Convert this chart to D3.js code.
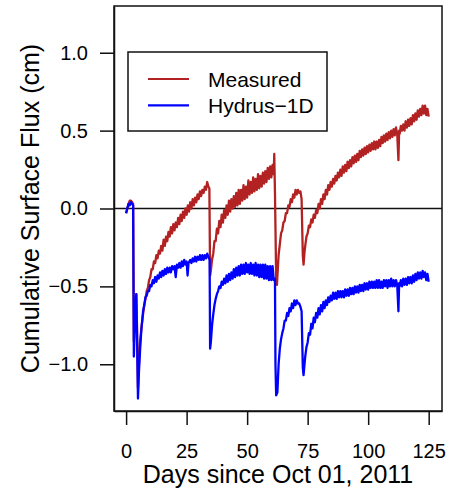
<!DOCTYPE html>
<html>
<head>
<meta charset="utf-8">
<script src="https://cdn.jsdelivr.net/npm/d3@7"></script>
<style>
  body { margin: 0; background: #fff; }
  text { font-family: "Liberation Sans", Arial, Helvetica, sans-serif; fill: #000; }
</style>
</head>
<body>
<svg id="chart" width="451" height="492"></svg>
<script>
// [day, cumulative flux (cm)]; noisy stretches alternate between
// the upper and lower edge of the trace
var measured = [
  [0,-0.03],[0.5,0.00],[1,0.03],[1.5,0.05],[2,0.05],[2.5,0.04],[2.9,0.03],[3.2,-0.85],[3.5,-0.75],[3.9,-0.60],
  [4.2,-0.55],[4.5,-0.75],[4.9,-1.15],[5.3,-1.00],[5.8,-0.85],[6.3,-0.77],[7,-0.68],[7.5,-0.62],[8,-0.58],[8.5,-0.53],
  [9,-0.51],[9.5,-0.46],[10,-0.44],[10.5,-0.39],[11,-0.39],[11.5,-0.34],[12,-0.35],[12.5,-0.30],[13,-0.32],[13.5,-0.27],
  [14,-0.29],[14.5,-0.24],[15,-0.27],[15.5,-0.20],[16,-0.24],[16.5,-0.18],[17,-0.21],[17.5,-0.15],[18,-0.18],[18.5,-0.12],
  [19,-0.16],[19.5,-0.10],[20,-0.14],[20.5,-0.09],[21,-0.12],[21.5,-0.06],[22,-0.10],[22.5,-0.04],[23,-0.08],[23.5,-0.02],
  [24,-0.06],[24.5,0.00],[25,-0.04],[25.5,0.02],[26,-0.02],[26.5,0.04],[27,0.00],[27.5,0.06],[28,0.02],[28.5,0.07],
  [29,0.04],[29.5,0.09],[30,0.06],[30.5,0.11],[31,0.08],[31.5,0.12],[32,0.10],[32.5,0.14],[33,0.12],[33.5,0.17],
  [34,0.14],[34.4,0.13],[34.7,-0.43],[35,-0.40],[35.5,-0.33],[36,-0.29],[36.5,-0.21],[37,-0.21],[37.5,-0.13],[38,-0.16],
  [38.5,-0.08],[39,-0.12],[39.5,-0.04],[40,-0.09],[40.5,-0.01],[41,-0.06],[41.5,0.02],[42,-0.04],[42.5,0.05],[43,-0.02],
  [43.5,0.06],[44,0.00],[44.5,0.08],[45,0.01],[45.5,0.10],[46,0.02],[46.5,0.12],[47,0.03],[47.5,0.12],[48,0.05],
  [48.5,0.15],[49,0.06],[49.5,0.14],[50,0.07],[50.5,0.18],[51,0.09],[51.5,0.17],[52,0.10],[52.5,0.20],[53,0.11],
  [53.5,0.19],[54,0.12],[54.5,0.22],[55,0.13],[55.5,0.21],[56,0.14],[56.5,0.23],[57,0.16],[57.5,0.24],[58,0.17],
  [58.5,0.26],[59,0.19],[59.5,0.27],[60,0.20],[60.5,0.28],[61,0.22],[61.2,0.35],[61.5,0.10],[62,-0.45],[62.3,-0.49],
  [62.7,-0.38],[63,-0.30],[63.5,-0.23],[64,-0.16],[64.5,-0.14],[65,-0.09],[65.5,-0.08],[66,-0.03],[66.5,-0.03],[67,0.02],
  [67.5,0.01],[68,0.06],[68.5,0.04],[69,0.09],[69.5,0.07],[70,0.12],[70.5,0.09],[71,0.12],[71.5,0.10],[72,0.11],
  [72.5,0.06],[73,-0.30],[73.3,-0.36],[73.7,-0.28],[74,-0.24],[74.5,-0.18],[75,-0.16],[75.5,-0.11],[76,-0.12],[76.5,-0.07],
  [77,-0.09],[77.5,-0.04],[78,-0.06],[78.5,-0.01],[79,-0.03],[79.5,0.03],[80,0.00],[80.5,0.06],[81,0.03],[81.5,0.09],
  [82,0.06],[82.5,0.12],[83,0.09],[83.5,0.15],[84,0.12],[84.5,0.17],[85,0.14],[85.5,0.19],[86,0.16],[86.5,0.21],
  [87,0.18],[87.5,0.23],[88,0.20],[88.5,0.25],[89,0.21],[89.5,0.27],[90,0.23],[90.5,0.28],[91,0.24],[91.5,0.30],
  [92,0.26],[92.5,0.31],[93,0.27],[93.5,0.33],[94,0.29],[94.5,0.34],[95,0.30],[95.5,0.35],[96,0.31],[96.5,0.37],
  [97,0.33],[97.5,0.38],[98,0.34],[98.5,0.39],[99,0.35],[99.5,0.40],[100,0.36],[100.5,0.41],[101,0.37],[101.5,0.42],
  [102,0.38],[102.5,0.43],[103,0.38],[103.5,0.43],[104,0.39],[104.5,0.44],[105,0.40],[105.5,0.46],[106,0.42],[106.5,0.47],
  [107,0.43],[107.5,0.48],[108,0.44],[108.5,0.49],[109,0.45],[109.5,0.50],[110,0.46],[110.5,0.51],[111,0.47],[111.5,0.52],
  [112,0.48],[112.5,0.31],[112.8,0.50],[113,0.48],[113.5,0.53],[114,0.50],[114.5,0.54],[115,0.50],[115.5,0.56],[116,0.52],
  [116.5,0.57],[117,0.53],[117.5,0.58],[118,0.54],[118.5,0.60],[119,0.56],[119.5,0.61],[120,0.57],[120.5,0.63],[121,0.59],
  [121.5,0.64],[122,0.60],[122.5,0.66],[123,0.61],[123.5,0.66],[124,0.60],[124.5,0.64],[125,0.59]
];

var hydrus = [
  [0,-0.03],[0.5,0.00],[1,0.03],[1.5,0.02],[2,0.04],[2.5,0.03],[2.9,0.02],[3.2,-0.95],[3.5,-0.80],[3.9,-0.62],
  [4.2,-0.55],[4.5,-0.80],[4.9,-1.22],[5.3,-1.05],[5.8,-0.90],[6.3,-0.78],[7,-0.66],[7.5,-0.62],[8,-0.57],[8.5,-0.56],
  [9,-0.53],[9.5,-0.53],[10,-0.49],[10.5,-0.50],[11,-0.46],[11.5,-0.48],[12,-0.44],[12.5,-0.47],[13,-0.43],[13.5,-0.45],
  [14,-0.41],[14.5,-0.44],[15,-0.40],[15.5,-0.43],[16,-0.39],[16.5,-0.42],[17,-0.38],[17.5,-0.41],[18,-0.38],[18.5,-0.41],
  [19,-0.37],[19.5,-0.39],[20,-0.37],[20.5,-0.44],[21,-0.36],[21.5,-0.38],[22,-0.35],[22.5,-0.38],[23,-0.34],[23.5,-0.37],
  [24,-0.33],[24.5,-0.36],[25,-0.34],[25.4,-0.43],[25.8,-0.35],[26.5,-0.33],[27,-0.35],[27.5,-0.32],[28,-0.34],[28.5,-0.31],
  [29,-0.34],[29.5,-0.31],[30,-0.33],[30.5,-0.30],[31,-0.33],[31.5,-0.30],[32,-0.33],[32.5,-0.30],[33,-0.32],[33.5,-0.29],
  [34,-0.31],[34.5,-0.33],[34.7,-0.90],[35,-0.86],[35.5,-0.75],[36,-0.68],[36.5,-0.62],[37,-0.58],[37.5,-0.55],[38,-0.53],
  [38.5,-0.50],[39,-0.51],[39.5,-0.47],[40,-0.49],[40.5,-0.45],[41,-0.48],[41.5,-0.43],[42,-0.47],[42.5,-0.42],[43,-0.46],
  [43.5,-0.41],[44,-0.45],[44.5,-0.39],[45,-0.44],[45.5,-0.38],[46,-0.43],[46.5,-0.37],[47,-0.43],[47.5,-0.36],[48,-0.42],
  [48.5,-0.36],[49,-0.42],[49.5,-0.35],[50,-0.41],[50.5,-0.36],[51,-0.42],[51.5,-0.35],[52,-0.42],[52.5,-0.36],[53,-0.43],
  [53.5,-0.35],[54,-0.43],[54.5,-0.36],[55,-0.44],[55.5,-0.36],[56,-0.44],[56.5,-0.36],[57,-0.45],[57.5,-0.36],[58,-0.45],
  [58.5,-0.37],[59,-0.46],[59.5,-0.37],[60,-0.46],[60.5,-0.37],[61,-0.46],[61.5,-0.45],[61.7,-1.00],[62,-1.20],[62.5,-1.18],
  [63,-1.00],[63.5,-0.90],[64,-0.84],[64.5,-0.80],[65,-0.77],[65.5,-0.72],[66,-0.72],[66.5,-0.67],[67,-0.69],[67.5,-0.64],
  [68,-0.66],[68.5,-0.61],[69,-0.64],[69.5,-0.59],[70,-0.62],[70.5,-0.59],[71,-0.61],[71.5,-0.61],[72,-0.63],[72.5,-0.66],
  [73,-1.02],[73.3,-1.07],[73.7,-1.00],[74,-0.95],[74.5,-0.89],[75,-0.86],[75.5,-0.80],[76,-0.81],[76.5,-0.74],[77,-0.77],
  [77.5,-0.70],[78,-0.73],[78.5,-0.67],[79,-0.70],[79.5,-0.64],[80,-0.68],[80.5,-0.62],[81,-0.66],[81.5,-0.60],[82,-0.64],
  [82.5,-0.59],[83,-0.62],[83.5,-0.57],[84,-0.60],[84.5,-0.56],[85,-0.59],[85.5,-0.54],[86,-0.58],[86.5,-0.54],[87,-0.58],
  [87.5,-0.53],[88,-0.57],[88.5,-0.53],[89,-0.57],[89.5,-0.53],[90,-0.57],[90.5,-0.52],[91,-0.56],[91.5,-0.52],[92,-0.56],
  [92.5,-0.51],[93,-0.55],[93.5,-0.51],[94,-0.55],[94.5,-0.50],[95,-0.54],[95.5,-0.50],[96,-0.54],[96.5,-0.49],[97,-0.53],
  [97.5,-0.49],[98,-0.53],[98.5,-0.48],[99,-0.52],[99.5,-0.48],[100,-0.52],[100.5,-0.47],[101,-0.51],[101.5,-0.47],[102,-0.51],
  [102.5,-0.47],[103,-0.51],[103.5,-0.46],[104,-0.51],[104.5,-0.46],[105,-0.51],[105.5,-0.47],[106,-0.51],[106.5,-0.46],[107,-0.50],
  [107.5,-0.46],[108,-0.51],[108.5,-0.46],[109,-0.50],[109.5,-0.45],[110,-0.50],[110.5,-0.46],[111,-0.50],[111.5,-0.46],[112,-0.49],
  [112.5,-0.66],[112.8,-0.48],[113,-0.50],[113.5,-0.46],[114,-0.50],[114.5,-0.45],[115,-0.49],[115.5,-0.45],[116,-0.49],[116.5,-0.44],
  [117,-0.48],[117.5,-0.44],[118,-0.48],[118.5,-0.43],[119,-0.47],[119.5,-0.42],[120,-0.46],[120.5,-0.41],[121,-0.45],[121.5,-0.41],
  [122,-0.45],[122.5,-0.40],[123,-0.44],[123.5,-0.41],[124,-0.46],[124.5,-0.42],[125,-0.47]
];

var seriesNames = ["Measured", "Hydrus\u22121D"];
var seriesColors = ["#b22222", "#0000ff"];
var xTicks = [0, 25, 50, 75, 100, 125];
var yTicks = [-1.0, -0.5, 0.0, 0.5, 1.0];

var svg = d3.select("#chart");

// plot region (R style box)
var plotLeft = 114, plotRight = 442, plotTop = 6, plotBottom = 411;

var x = d3.scaleLinear().domain([-5, 130.5]).range([plotLeft, plotRight]);
var y = d3.scaleLinear().domain([-1.3, 1.3]).range([plotBottom, plotTop]);

// horizontal line at zero
svg.append("line")
    .attr("x1", plotLeft).attr("x2", plotRight)
    .attr("y1", y(0)).attr("y2", y(0))
    .attr("stroke", "#111")
    .attr("stroke-width", 1.4);

var line = d3.line()
    .x(function(d) { return x(d[0]); })
    .y(function(d) { return y(d[1]); });

[measured, hydrus].forEach(function(data, i) {
  svg.append("path")
      .datum(data)
      .attr("fill", "none")
      .attr("stroke", seriesColors[i])
      .attr("stroke-width", 2.3)
      .attr("stroke-linejoin", "round")
      .attr("d", line);
});

// box
svg.append("rect")
    .attr("x", plotLeft).attr("y", plotTop)
    .attr("width", plotRight - plotLeft).attr("height", plotBottom - plotTop)
    .attr("fill", "none")
    .attr("stroke", "#111")
    .attr("stroke-width", 1.5);

// axes
var xAxis = svg.append("g")
    .attr("transform", "translate(0," + plotBottom + ")")
    .call(d3.axisBottom(x).tickValues(xTicks).tickSize(14).tickSizeOuter(0).tickPadding(19)
      .tickFormat(d3.format("d")));

var yAxis = svg.append("g")
    .attr("transform", "translate(" + plotLeft + ",0)")
    .call(d3.axisLeft(y).tickValues(yTicks).tickSize(14).tickSizeOuter(0).tickPadding(12)
      .tickFormat(function(d) { return d3.format(".1f")(d).replace("-", "\u2212"); }));

[xAxis, yAxis].forEach(function(g) {
  g.select(".domain").attr("stroke", "#111").attr("stroke-width", 1.5);
  g.selectAll(".tick line").attr("stroke", "#111").attr("stroke-width", 1.5);
  g.selectAll(".tick text")
      .attr("fill", "#000")
      .style("font-family", "'Liberation Sans', Arial, sans-serif")
      .style("font-size", "20px");
});

// axis titles
svg.append("text")
    .attr("x", (plotLeft + plotRight) / 2)
    .attr("y", 483)
    .attr("text-anchor", "middle")
    .style("font-size", "25px")
    .text("Days since Oct 01, 2011");

svg.append("text")
    .attr("transform", "translate(38.5," + ((plotTop + plotBottom) / 2) + ") rotate(-90)")
    .attr("text-anchor", "middle")
    .style("font-size", "25px")
    .text("Cumulative Surface Flux (cm)");

// legend
var legend = svg.append("g");
legend.append("rect")
    .attr("x", 128).attr("y", 52)
    .attr("width", 199).attr("height", 79)
    .attr("fill", "#fff")
    .attr("stroke", "#111")
    .attr("stroke-width", 1.5);

seriesNames.forEach(function(name, i) {
  var ly = 79 + i * 26.3;
  legend.append("line")
      .attr("x1", 148).attr("x2", 189)
      .attr("y1", ly).attr("y2", ly)
      .attr("stroke", seriesColors[i])
      .attr("stroke-width", 2.2);
  legend.append("text")
      .attr("x", 208)
      .attr("y", ly + 7.5)
      .style("font-size", "21px")
      .text(name);
});
</script>
</body>
</html>
